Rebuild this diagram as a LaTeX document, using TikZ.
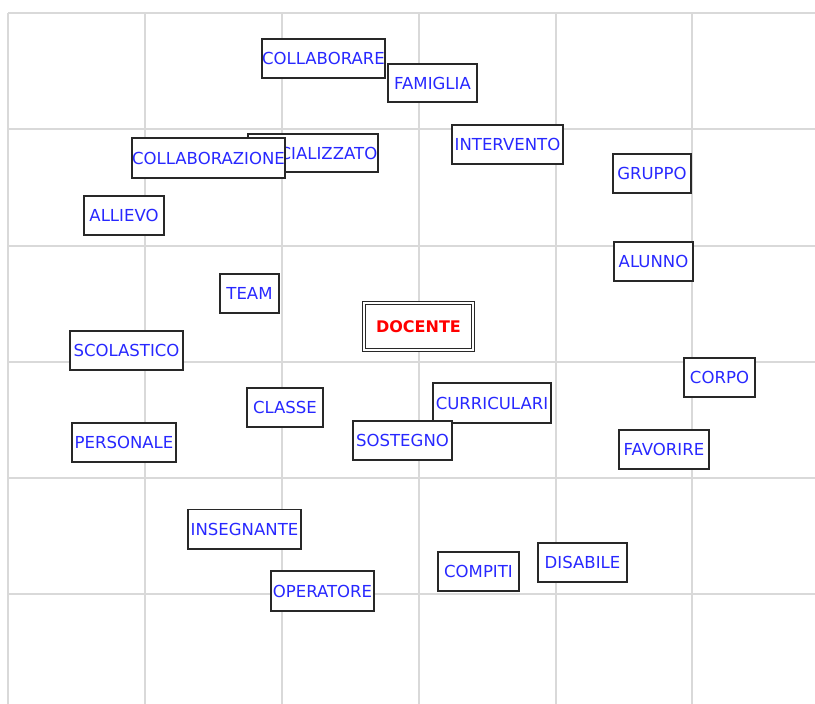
\documentclass[tikz,border=0pt]{standalone}
\usepackage{fontspec}
\setmainfont{DejaVu Sans}
\definecolor{gridgray}{RGB}{217,217,217}
\definecolor{wordblue}{RGB}{40,40,255}
\definecolor{boxline}{RGB}{40,40,40}
\definecolor{hubred}{RGB}{255,0,0}
\begin{document}
\begin{tikzpicture}[x=0.75pt,y=-0.75pt,
  word/.style 2 args={draw=boxline, line width=1.35pt, fill=white,
    text=wordblue, font=\fontsize{12.4}{14}\selectfont,
    inner sep=0pt, outer sep=0pt,
    minimum width={(#1-1.8)*0.75pt}, minimum height={(#2-1.8)*0.75pt}},
  hub/.style 2 args={draw=boxline, line width=0.85pt, double=white,
    double distance=1.6pt, fill=white,
    text=hubred, font=\fontsize{12}{14}\selectfont\bfseries,
    inner sep=0pt, outer sep=0pt,
    minimum width={(#1-4)*0.75pt}, minimum height={(#2-4)*0.75pt}},
  gridline/.style={draw=gridgray, line width=1.5pt}]
\useasboundingbox (0,0) rectangle (815,704);
% background grid
\foreach \gx in {8,144.5,282,419,555.5,692}
  \draw[gridline] (\gx,13) -- (\gx,704);
\foreach \gy in {13,129,246,362,478,594}
  \draw[gridline] (8,\gy) -- (815,\gy);
% word boxes
\node[word={125}{41}] (collaborare) at (323.5,58.5) {COLLABORARE};
\node[word={91}{40}] (famiglia) at (432.5,83) {FAMIGLIA};
\node[word={132}{40}] (specializzato) at (313,153) {SPECIALIZZATO};
\node[word={153}{42}] (collaborazione) at (208.5,158) {COLLABORAZIONE};
\node[word={113}{41}] (intervento) at (507.5,144.5) {INTERVENTO};
\node[word={80}{41}] (gruppo) at (652,173.5) {GRUPPO};
\node[word={82}{41}] (allievo) at (124,215.5) {ALLIEVO};
\node[word={81}{41}] (alunno) at (653.5,261.5) {ALUNNO};
\node[word={61}{41}] (team) at (249.5,293.5) {TEAM};
\node[hub={113}{51}] (docente) at (418.5,326.5) {DOCENTE};
\node[word={115}{41}] (scolastico) at (126.5,350.5) {SCOLASTICO};
\node[word={73}{41}] (corpo) at (719.5,377.5) {CORPO};
\node[word={78}{41}] (classe) at (285,407.5) {CLASSE};
\node[word={120}{42}] (curriculari) at (492,403) {CURRICULARI};
\node[word={106}{41}] (personale) at (124,442.5) {PERSONALE};
\node[word={101}{41}] (sostegno) at (402.5,440.5) {SOSTEGNO};
\node[word={92}{41}] (favorire) at (664,449.5) {FAVORIRE};
\node[word={115}{41}] (insegnante) at (244.5,529) {INSEGNANTE};
\node[word={91}{41}] (disabile) at (582.5,562.5) {DISABILE};
\node[word={83}{41}] (compiti) at (478.5,571.5) {COMPITI};
\node[word={105}{42}] (operatore) at (322.5,591) {OPERATORE};
\end{tikzpicture}
\end{document}
